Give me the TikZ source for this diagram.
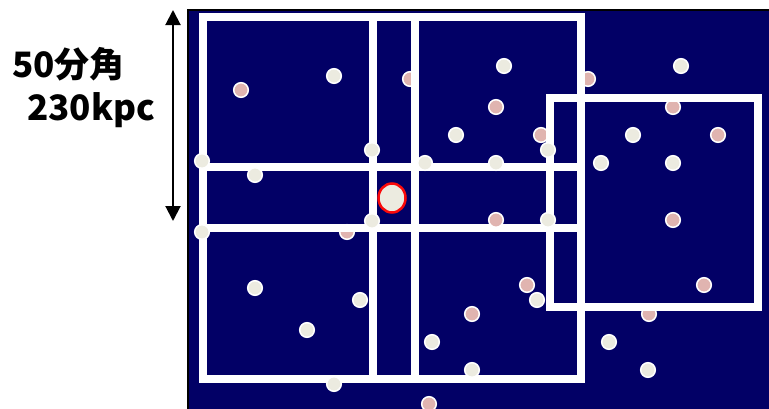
\documentclass[tikz,border=0pt]{standalone}
\usepackage{fontspec}
\newfontfamily\jpfont{Noto Sans CJK JP}
\usetikzlibrary{arrows.meta}
\definecolor{skyblue}{RGB}{2,0,102}
\definecolor{galwhite}{RGB}{236,235,224}
\definecolor{galpink}{RGB}{224,180,176}
\definecolor{bcgred}{RGB}{250,10,10}

\begin{document}
\begin{tikzpicture}[x=1pt,y=-1pt,>={Triangle[length=15pt,width=15pt]},
    field/.style={draw=white,line width=8pt},
    galw/.style={fill=galwhite,draw=white,line width=1.5pt},
    galp/.style={fill=galpink,draw=white,line width=1.5pt},
    lbl/.style={font=\jpfont\bfseries\fontsize{35}{40}\selectfont,inner sep=0pt}]
    \useasboundingbox (0,0) rectangle (769,408);
    % sky
    \fill[skyblue,draw=black,line width=2pt] (188,10) rectangle (772,412);
    % galaxies below the fields
    \foreach \x/\y in {241/90,410/79,588/79,496/107,673/107,541/135,718/135,
        673/220,347/232,527/285,704/285,472/314,649/314,429/404}
      \draw[galp] (\x,\y) circle (7.3);
    % survey fields
    \draw[field] (203,17) rectangle (581,379);
    \draw[field] (203,167) -- (581,167);
    \draw[field] (203,228) -- (581,228);
    \draw[field] (373,17) -- (373,379);
    \draw[field] (415,17) -- (415,379);
    \draw[field] (550,98) rectangle (758,307);
    \draw[galp] (496,220) circle (7.3);
    % galaxies above the fields
    \foreach \x/\y in {334/76,504/66,681/66,456/135,633/135,372/150,202/161,
        255/175,425/163,496/163,548/150,601/163,673/163,202/232,372/221,548/220,
        255/288,360/300,307/330,537/300,432/342,472/370,334/384,609/342,648/370}
      \draw[galw] (\x,\y) circle (7.3);
    % central galaxy
    \draw[fill=galwhite,draw=bcgred,line width=2.5pt] (392,198) ellipse (13.5 and 14.5);
    % scale
    \coordinate (top) at (173,10);
    \coordinate (bot) at (173,221);
    \draw[<->,line width=2pt] (top) -- (bot);
    \node[lbl,anchor=base west] (ang) at (12,77) {50分角};
    \node[lbl,anchor=base west] (kpc) at (27,120) {230kpc};
\end{tikzpicture}
\end{document}
